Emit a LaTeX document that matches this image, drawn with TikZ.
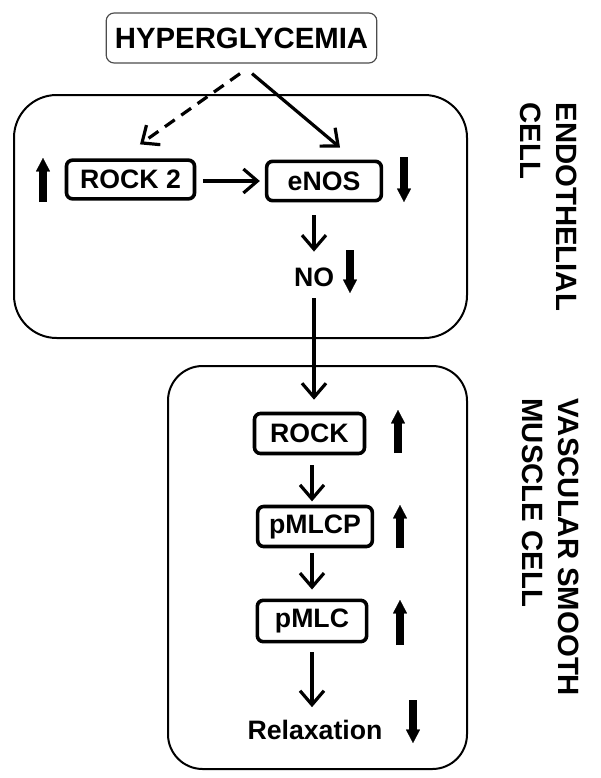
\documentclass[tikz,border=0pt]{standalone}
\usepackage{fontspec}
\setmainfont{Liberation Sans}
\usetikzlibrary{arrows.meta}

\tikzset{every picture/.style={line width=0.75pt}}
\tikzset{
  conn/.style={line width=2.4pt, -{Straight Barb[length=10.5pt,width=18pt,line width=2.4pt]}},
  level/.style={line width=5.5pt, -{Triangle[length=10pt,width=10.5pt,line width=0.1pt]}},
  cellwall/.style={line width=1.5pt},
  hyperbox/.style={draw=black!70, line width=0.9pt, rounded corners=6pt, inner sep=0pt, minimum width=203pt, minimum height=37.5pt, font=\fontsize{22}{26}\selectfont\bfseries},
  protbox/.style={draw, line width=2.7pt, rounded corners=4.5pt, inner sep=0pt, font=\fontsize{20}{24}\selectfont\bfseries},
  lbl/.style={inner sep=0pt, font=\fontsize{20}{24}\selectfont\bfseries},
  celllbl/.style={inner sep=0pt, rotate=-90, anchor=north west, align=left, font=\fontsize{22}{26.5}\selectfont\bfseries},
}

\begin{document}
\begin{tikzpicture}[x=0.75pt,y=0.75pt,yscale=-1,xscale=1]
\useasboundingbox (0,0) rectangle (600,778);

%Shape: Rounded Rect [endothelial cell]
\draw [cellwall, rounded corners=32pt] (14,95) rectangle (467,338);
%Shape: Rounded Rect [smooth muscle cell]
\draw [cellwall, rounded corners=26pt] (168,366) rectangle (467,769);

% Text Node
\node [hyperbox] (hyper) at (241.5,38) {HYPERGLYCEMIA};
% Text Node
\node [protbox, minimum width=96pt, minimum height=29pt] (rock2) at (130.5,179.5) {ROCK 2};
% Text Node
\node [protbox, minimum width=86pt, minimum height=29.5pt] (enos) at (324,181) {eNOS};
% Text Node
\node [lbl] (no) at (314,277) {NO};
% Text Node
\node [protbox, minimum width=82.5pt, minimum height=30pt] (rock) at (309.5,433.5) {ROCK};
% Text Node
\node [protbox, minimum width=86pt, minimum height=30pt] (pmlcp) at (315,526.5) {pMLCP};
% Text Node
\node [protbox, minimum width=82pt, minimum height=31pt] (pmlc) at (312,621) {pMLC};
% Text Node
\node [lbl] (relax) at (315,730) {Relaxation};

% Text Node
\node [celllbl] (endo) at (577,102) {ENDOTHELIAL\\CELL};
% Text Node
\node [celllbl] (vsmc) at (579,398) {VASCULAR SMOOTH\\MUSCLE CELL};

%Straight Lines
\draw [conn, dash pattern=on 9pt off 6pt] ([xshift=-1.1pt,yshift=7.5pt]hyper.south) -- ([xshift=7.1pt,yshift=-10.5pt]rock2.north);
%Straight Lines
\draw [conn] ([xshift=7.9pt,yshift=7.5pt]hyper.south) -- ([xshift=12pt,yshift=-9pt]enos.north);
%Straight Lines
\draw [conn, shorten <=5pt, shorten >=3.75pt] (rock2.east |- enos) -- (enos.west);
%Straight Lines
\draw [conn, shorten <=9.75pt, shorten >=11.6pt] (enos.south -| no.north) -- (no.north);
%Straight Lines
\draw [conn, shorten <=8.6pt, shorten >=9pt] (no.south) -- (no.south |- rock.north);
%Straight Lines
\draw [conn, shorten <=7.5pt, shorten >=2.5pt] (rock.south -| pmlc) -- (pmlc |- pmlcp.north);
%Straight Lines
\draw [conn, shorten <=3.75pt, shorten >=6.75pt] (pmlcp.south -| pmlc) -- (pmlc.north);
%Straight Lines
\draw [conn, shorten <=6.75pt, shorten >=9.4pt] (pmlc.south) -- (pmlc.south |- relax.north);

%Up and down arrows
\draw [level] (43,202) -- (43,158);
\draw [level] (404,157) -- (404,202);
\draw [level] (350,250) -- (350,293);
\draw [level] (398,453) -- (398,410);
\draw [level] (400,548) -- (400,505);
\draw [level] (400,645) -- (400,600);
\draw [level] (413,700) -- (413,743);

\end{tikzpicture}
\end{document}
